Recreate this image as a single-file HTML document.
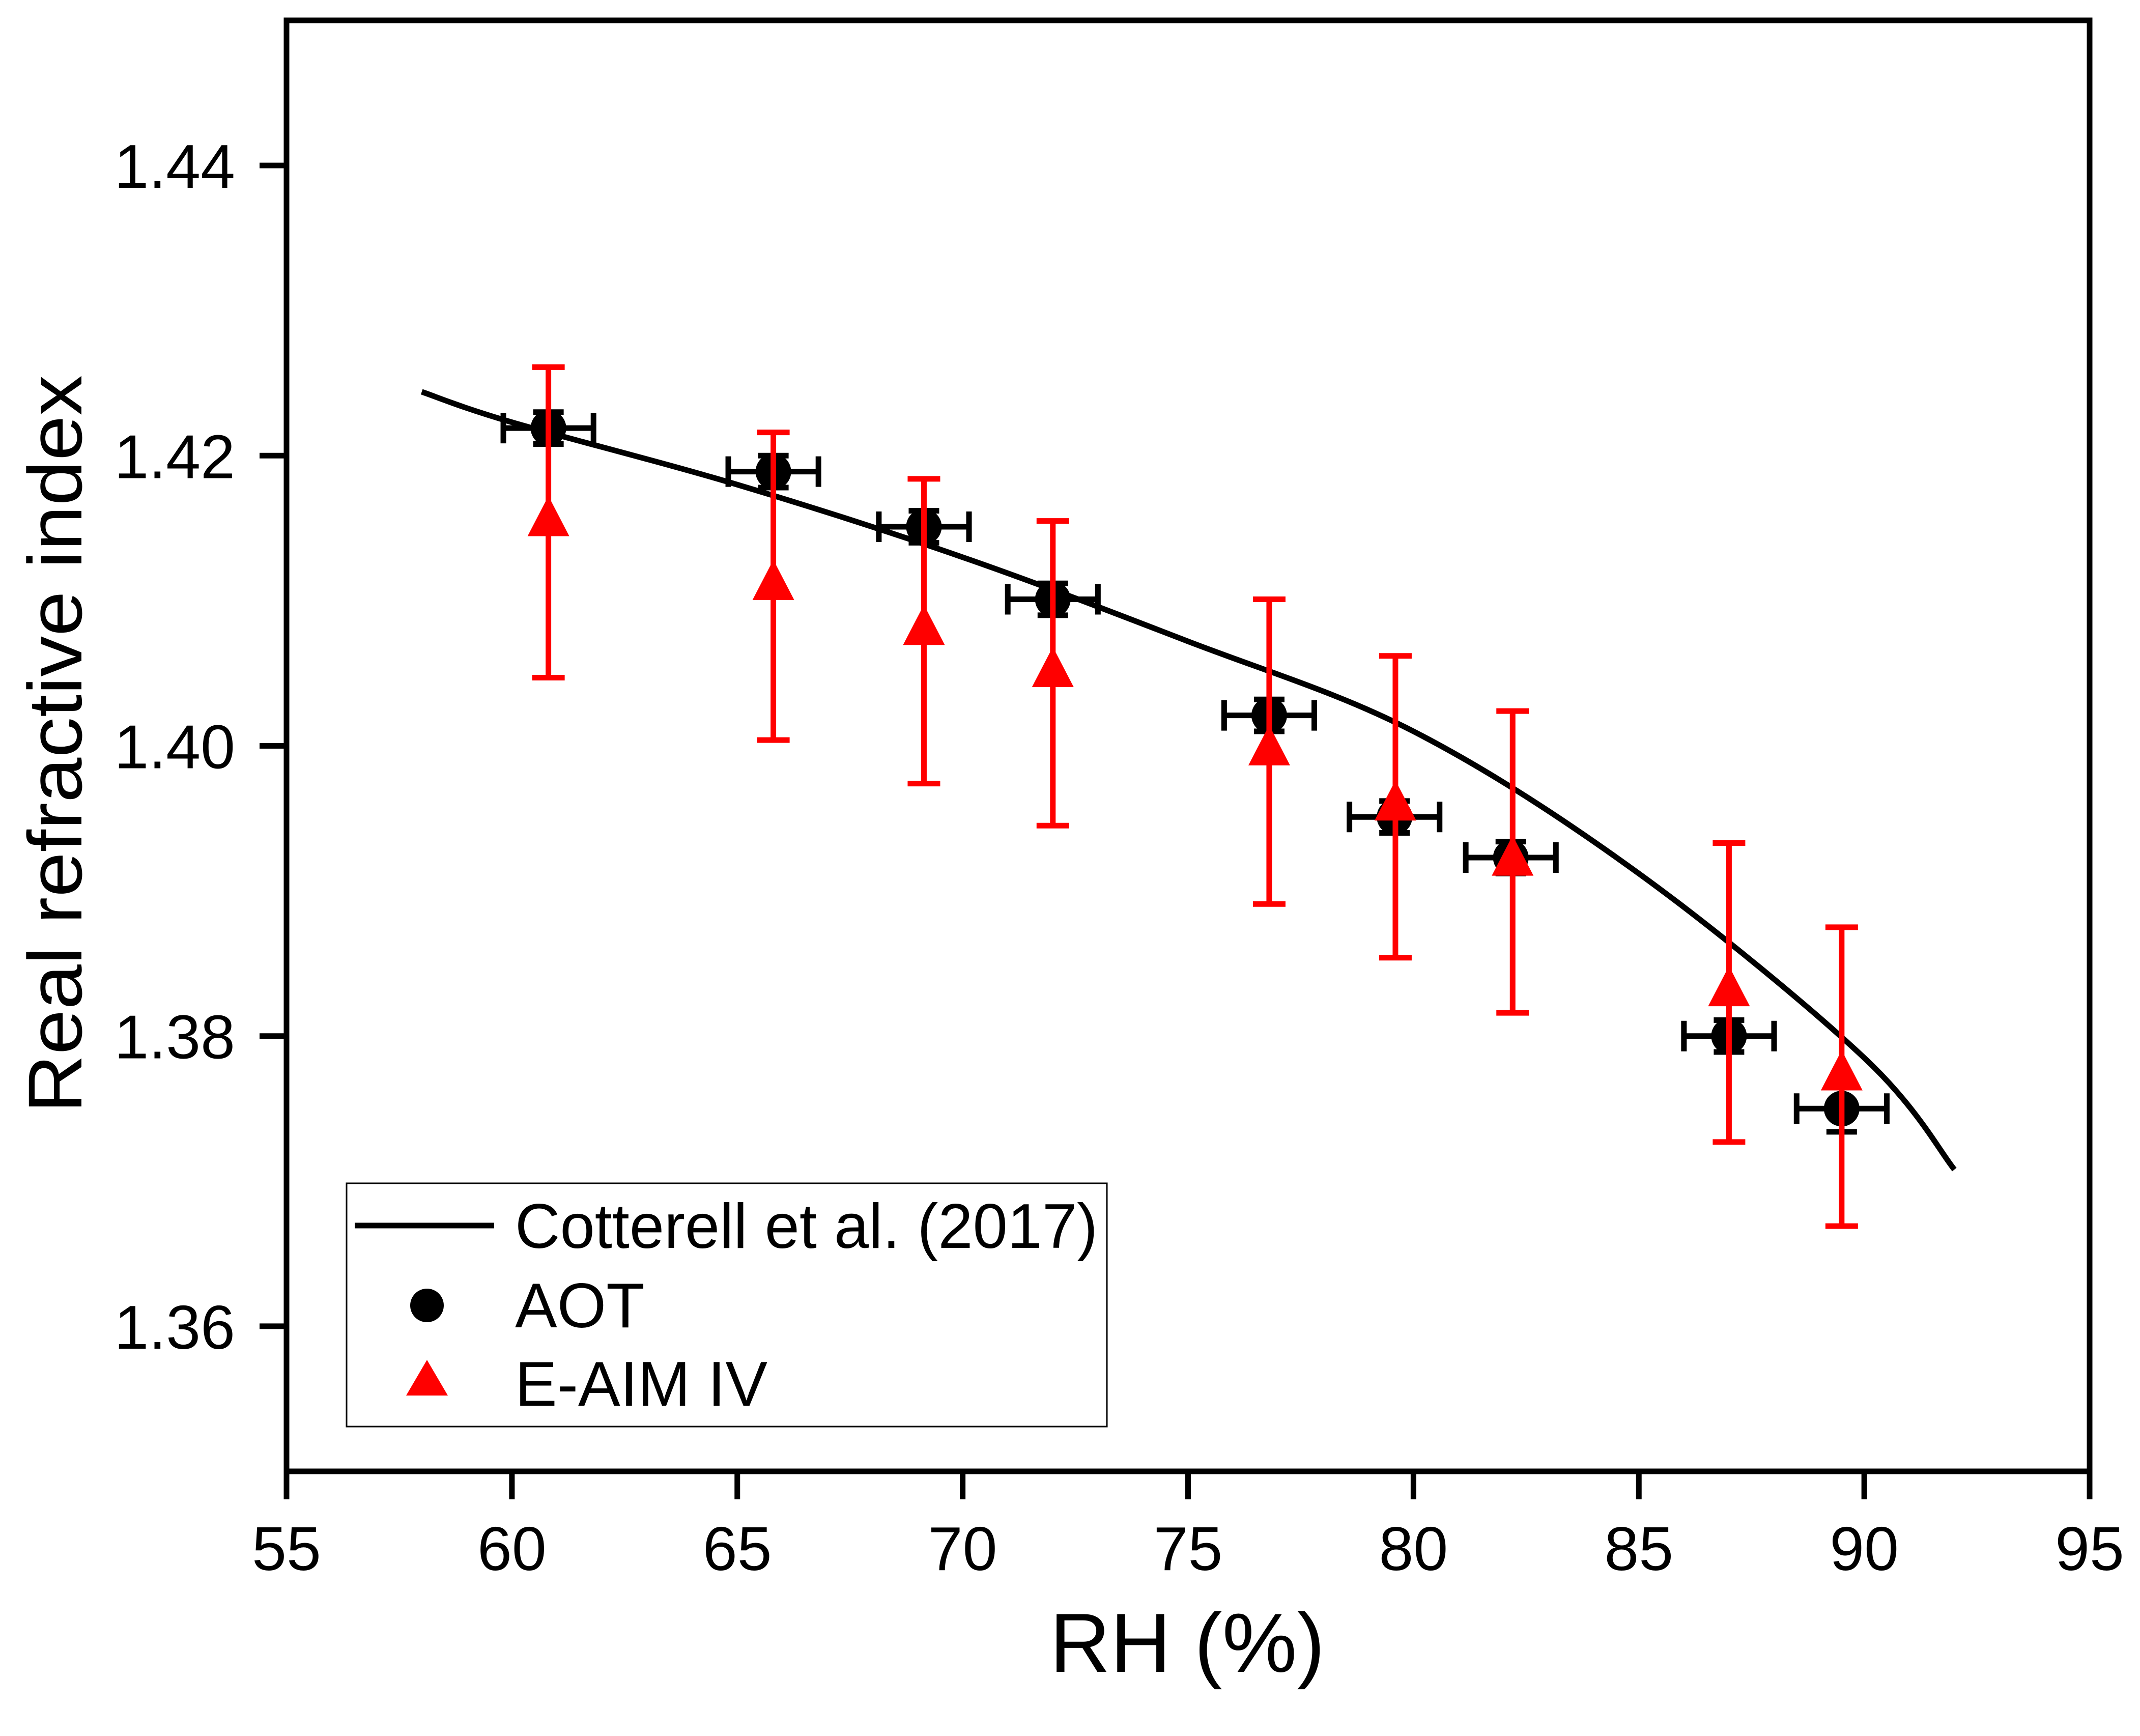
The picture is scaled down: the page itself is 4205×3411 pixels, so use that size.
<!DOCTYPE html>
<html><head><meta charset="utf-8"><style>
html,body{margin:0;padding:0;background:#fff;}
svg{display:block;}
text{font-family:"Liberation Sans",Arial,sans-serif;fill:#000;}
</style></head><body>
<svg id="chart" width="4205" height="3411" viewBox="0 0 4205 3411" xmlns="http://www.w3.org/2000/svg">
<rect width="4205" height="3411" fill="#fff"/>
<g id="plot"></g>
</svg>
<script>
const xTicks=[55,60,65,70,75,80,85,90,95];
const yTicks=[1.36,1.38,1.40,1.42,1.44];
const yTickLabels=["1.36","1.38","1.40","1.42","1.44"];
const curveX=[58,60,65,70,75,80,85,90,92];
const curveY=[1.4244,1.4223,1.4180,1.4130,1.4072,1.4010,1.3912,1.3785,1.3708];
const aotX=[60.81,65.8,69.14,72.0,76.8,79.58,82.16,87.0,89.5];
const aotY=[1.4219,1.4189,1.4151,1.4101,1.4021,1.3951,1.3923,1.3800,1.3750];
const aotXErr=[1.0,1.0,1.0,1.0,1.0,1.0,1.0,1.0,1.0];
const aotYErr=[0.0011,0.0011,0.0011,0.0011,0.0011,0.0011,0.0011,0.0011,0.0016];
const eaimX=[60.81,65.8,69.14,72.0,76.8,79.6,82.2,87.0,89.5];
const eaimY=[1.4154,1.4110,1.4079,1.4050,1.3996,1.3958,1.3920,1.3830,1.3772];
const eaimErr=[0.0107,0.0106,0.0105,0.0105,0.0105,0.0104,0.0104,0.0103,0.0103];

const L=563,R=4106,T=40,B=2891;
const xMin=55,xMax=95,yMin=1.35,yMax=1.45;
const sx=v=>L+(v-xMin)/(xMax-xMin)*(R-L);
const sy=v=>B-(v-yMin)/(yMax-yMin)*(B-T);
const NS="http://www.w3.org/2000/svg";
const g=document.getElementById('plot');
const SW=11;
function mk(tag,attrs,parent){const e=document.createElementNS(NS,tag);for(const k in attrs)e.setAttribute(k,attrs[k]);(parent||g).appendChild(e);return e;}

const frame=mk('rect',{x:L,y:T,width:R-L,height:B-T,fill:'none',stroke:'#000','stroke-width':SW});



xTicks.forEach(t=>{
  const ln=mk('line',{x1:sx(t),x2:sx(t),y1:B,y2:B+55,stroke:'#000','stroke-width':SW});
  
  
  const tx=mk('text',{x:sx(t),y:3085,'font-size':122,'text-anchor':'middle'});
  tx.textContent=t;
  
  
});
yTicks.forEach((t,i)=>{
  const ln=mk('line',{x1:L-53,x2:L,y1:sy(t),y2:sy(t),stroke:'#000','stroke-width':SW});
  
  
  const tx=mk('text',{x:462,y:sy(t)+44,'font-size':122,'text-anchor':'end'});
  tx.textContent=yTickLabels[i];
  
  
});
const xt=mk('text',{x:2333,y:3285,'font-size':165,'text-anchor':'middle','font-family':'DejaVu Sans, sans-serif'});
xt.textContent='RH (%)';


const yt=mk('text',{x:0,y:0,'font-size':150,'text-anchor':'middle','font-family':'DejaVu Sans, sans-serif',textLength:1450,lengthAdjust:'spacingAndGlyphs',transform:'translate(160,1462) rotate(-90)'});
yt.textContent='Real refractive index';



const pts=curveX.map((x,i)=>[sx(x),sy(curveY[i])]);
let d='M'+pts[0][0].toFixed(1)+' '+pts[0][1].toFixed(1);
for(let i=0;i<pts.length-1;i++){
  const p0=pts[Math.max(0,i-1)],p1=pts[i],p2=pts[i+1],p3=pts[Math.min(pts.length-1,i+2)];
  const c1=[p1[0]+(p2[0]-p0[0])/6,p1[1]+(p2[1]-p0[1])/6];
  const c2=[p2[0]-(p3[0]-p1[0])/6,p2[1]-(p3[1]-p1[1])/6];
  d+=`C${c1[0].toFixed(1)} ${c1[1].toFixed(1)} ${c2[0].toFixed(1)} ${c2[1].toFixed(1)} ${p2[0].toFixed(1)} ${p2[1].toFixed(1)}`;
}
const cv=mk('path',{d:d,fill:'none',stroke:'#000','stroke-width':SW,'stroke-linejoin':'round'});



aotX.forEach((x,i)=>{
  const cx=sx(x),cy=sy(aotY[i]);
  const grp=mk('g',{});
  
  
  const x1=sx(x-aotXErr[i]),x2=sx(x+aotXErr[i]);
  const y1=sy(aotY[i]+aotYErr[i]),y2=sy(aotY[i]-aotYErr[i]);
  mk('line',{x1:x1,x2:x2,y1:cy,y2:cy,stroke:'#000','stroke-width':SW},grp);
  mk('line',{x1:x1,x2:x1,y1:cy-30,y2:cy+30,stroke:'#000','stroke-width':SW},grp);
  mk('line',{x1:x2,x2:x2,y1:cy-30,y2:cy+30,stroke:'#000','stroke-width':SW},grp);
  mk('line',{x1:cx,x2:cx,y1:y1,y2:y2,stroke:'#000','stroke-width':SW},grp);
  mk('line',{x1:cx-30,x2:cx+30,y1:y1,y2:y1,stroke:'#000','stroke-width':SW},grp);
  mk('line',{x1:cx-30,x2:cx+30,y1:y2,y2:y2,stroke:'#000','stroke-width':SW},grp);
  mk('circle',{cx:cx,cy:cy,r:35,fill:'#000'},grp);
});
eaimX.forEach((x,i)=>{
  const cx=sx(x),cy=sy(eaimY[i]);
  const grp=mk('g',{});
  
  
  const y1=sy(eaimY[i]+eaimErr[i]),y2=sy(eaimY[i]-eaimErr[i]);
  mk('line',{x1:cx,x2:cx,y1:y1,y2:y2,stroke:'#f00','stroke-width':SW},grp);
  mk('line',{x1:cx-32,x2:cx+32,y1:y1,y2:y1,stroke:'#f00','stroke-width':SW},grp);
  mk('line',{x1:cx-32,x2:cx+32,y1:y2,y2:y2,stroke:'#f00','stroke-width':SW},grp);
  mk('polygon',{points:`${cx},${cy-52} ${cx-41},${cy+27} ${cx+41},${cy+27}`,fill:'#f00'},grp);
});

const lg=mk('g',{});


mk('rect',{x:681,y:2325,width:1494,height:478,fill:'#fff',stroke:'#000','stroke-width':3},lg);
const e1=mk('g',{},lg);


mk('line',{x1:697,x2:971,y1:2408,y2:2408,stroke:'#000','stroke-width':SW},e1);
const t1=mk('text',{x:1012,y:2452,'font-size':124,textLength:1145,lengthAdjust:'spacingAndGlyphs'},e1);t1.textContent='Cotterell et al. (2017)';
const e2=mk('g',{},lg);


mk('circle',{cx:839,cy:2565,r:33,fill:'#000'},e2);
const t2=mk('text',{x:1012,y:2608,'font-size':124},e2);t2.textContent='AOT';
const e3=mk('g',{},lg);


mk('polygon',{points:'839,2672 798,2742 880,2742',fill:'#f00'},e3);
const t3=mk('text',{x:1012,y:2762,'font-size':124},e3);t3.textContent='E-AIM IV';
</script>
</body></html>
